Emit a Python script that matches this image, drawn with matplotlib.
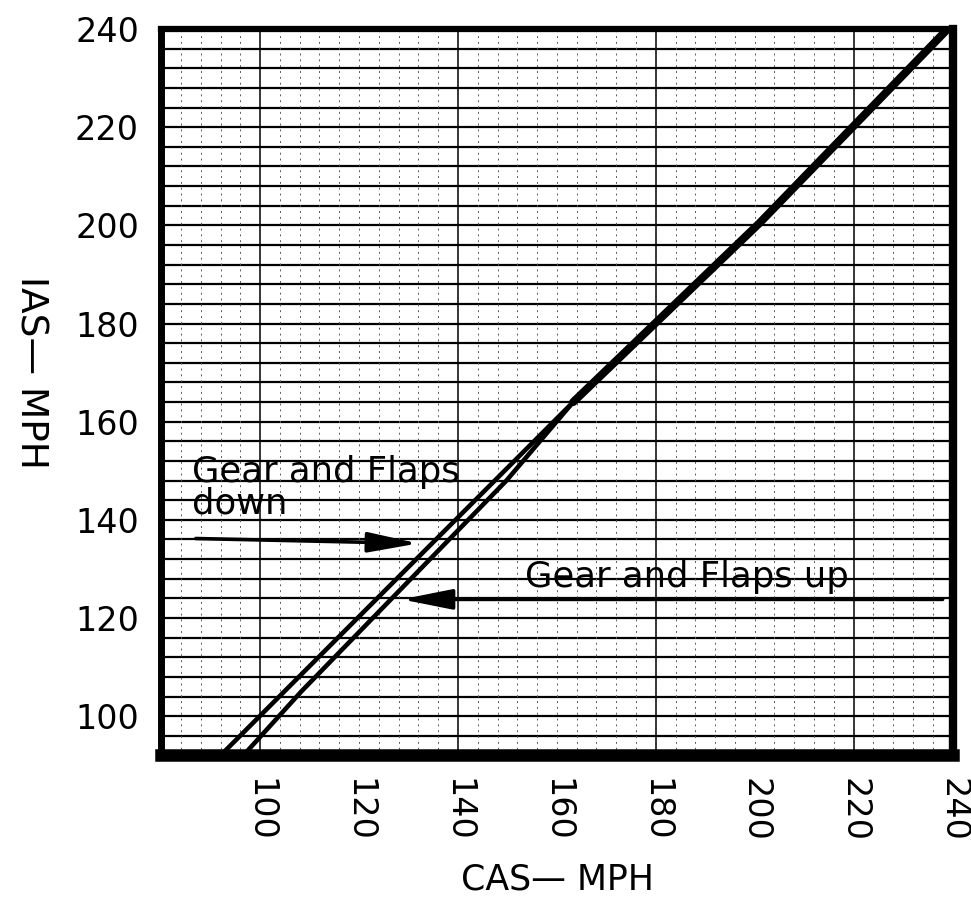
import matplotlib
matplotlib.use("Agg")
import matplotlib.pyplot as plt
import numpy as np

# ---- data ----
x_ticks = [100, 120, 140, 160, 180, 200, 220, 240]
y_ticks = [100, 120, 140, 160, 180, 200, 220, 240]

# Gear and Flaps down (upper/left branch)
ias_down = [92.0, 130.0, 164.0]
cas_down = [92.0, 129.6, 163.3]
# Gear and Flaps up (lower/right branch)
ias_up = [92.0, 105.0, 148.0, 164.0]
cas_up = [96.6, 108.3, 149.8, 163.3]
# merged single line above ~164 mph
ias_both = [164.0, 200.5, 240.0]
cas_both = [163.3, 201.0, 239.0]

label_down = "Gear and Flaps\ndown"
label_up = "Gear and Flaps up"
xlabel = "CAS\u2014 MPH"
ylabel = "IAS\u2014 MPH"

# ---- figure ----
fig = plt.figure(figsize=(9.71, 9.08), dpi=100)
ax = fig.add_axes([0.166, 0.168, 0.815, 0.800])
ax.set_xlim(80, 240)
ax.set_ylim(92, 240)

# grid: horizontal solid every 4, vertical dashed every 4, solid every 40
for yv in np.arange(96, 240, 4):
    ax.axhline(yv, color="black", lw=1.6, zorder=1)
for xv in np.arange(84, 240, 4):
    if (xv - 100) % 40 == 0:
        ax.axvline(xv, color="black", lw=1.1, zorder=1)
    else:
        ax.axvline(xv, color="0.35", lw=0.7, ls=(0, (2, 4)), zorder=1)

lw = 3.3
ax.plot(cas_down, ias_down, color="black", lw=lw, solid_capstyle="butt",
        solid_joinstyle="round", zorder=3)
ax.plot(cas_up, ias_up, color="black", lw=lw, solid_capstyle="butt",
        solid_joinstyle="round", zorder=3)
ax.plot(cas_both, ias_both, color="black", lw=5.8, solid_capstyle="round",
        zorder=3)

# annotations
ax.text(86.2, 146.5, label_down, fontsize=25.5, ha="left", va="center",
        linespacing=0.92, zorder=4)
ax.annotate("", xy=(132.0, 135.2), xytext=(87.0, 136.2),
            arrowprops=dict(arrowstyle="-|>,head_length=1.4,head_width=0.28",
                            lw=2.6, color="black", mutation_scale=22,
                            shrinkA=0, shrinkB=0), zorder=4)
ax.text(153.6, 128.3, label_up, fontsize=25.5, ha="left", va="center", zorder=4)
ax.annotate("", xy=(128.6, 123.8), xytext=(238.0, 123.8),
            arrowprops=dict(arrowstyle="-|>,head_length=1.4,head_width=0.28",
                            lw=2.6, color="black", mutation_scale=22,
                            shrinkA=0, shrinkB=0), zorder=4)

# ticks
ax.set_xticks(x_ticks)
ax.set_xticklabels([str(v) for v in x_ticks], rotation=270, fontsize=24,
                   va="top", ha="center")
ax.set_yticks(y_ticks)
ax.set_yticklabels([str(v) for v in y_ticks], fontsize=24)
ax.tick_params(axis="both", length=0)
ax.tick_params(axis="x", pad=16)
ax.tick_params(axis="y", pad=16)

# frame
ax.spines["bottom"].set_linewidth(9)
ax.spines["left"].set_linewidth(5)
ax.spines["right"].set_linewidth(6)
ax.spines["top"].set_linewidth(4.5)
for s in ax.spines.values():
    s.set_zorder(5)

fig.text(0.574, 0.031, xlabel, fontsize=25, ha="center", va="center")
fig.text(0.031, 0.590, ylabel, fontsize=27, ha="center", va="center",
         rotation=270)

fig.savefig("out.png", dpi=100, facecolor="white")
